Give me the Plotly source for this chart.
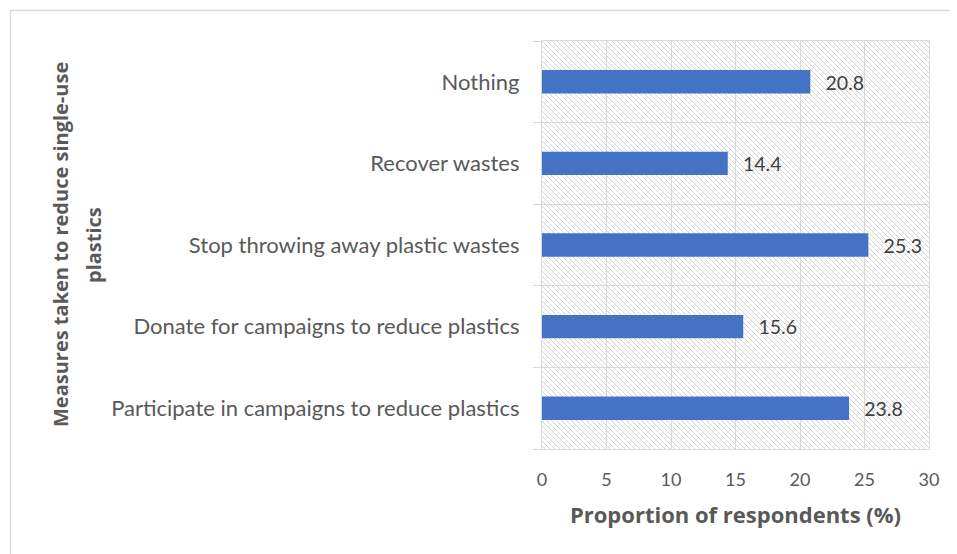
import base64
import plotly.graph_objects as go

categories = [
    "Participate in campaigns to reduce plastics",
    "Donate for campaigns to reduce plastics",
    "Stop throwing away plastic wastes",
    "Recover wastes",
    "Nothing",
]
values = [23.8, 15.6, 25.3, 14.4, 20.8]
x_ticks = [0, 5, 10, 15, 20, 25, 30]
x_title = "Proportion of respondents (%)"
y_title_lines = ["Measures taken to reduce single-use", "plastics"]

# page is shown with an 8px body margin, so the figure is offset by (8, 8)
OFF = 8
W, H = 957 - OFF, 554 - OFF
ML, MR, MT, MB = 542 - OFF, 28, 41 - OFF, 105
PW, PH = W - ML - MR, H - MT - MB

grid = "#d9d9d9"
txt = "#595959"

svg = (
    f'<svg xmlns="http://www.w3.org/2000/svg" width="{PW}" height="{PH}" viewBox="0 0 {PW} {PH}">'
    '<defs><pattern id="h" width="5" height="5" patternUnits="userSpaceOnUse">'
    '<path d="M-1,-1 L6,6 M-1,4 L1,6 M4,-1 L6,1" stroke="#d0d0d0" stroke-width="0.9"/>'
    '</pattern></defs>'
    f'<rect width="{PW}" height="{PH}" fill="url(#h)"/></svg>'
)
src = "data:image/svg+xml;base64," + base64.b64encode(svg.encode()).decode()

fig = go.Figure(
    go.Bar(
        x=values,
        y=categories,
        orientation="h",
        width=0.287,
        marker=dict(color="#4472C4", line=dict(width=0)),
        text=[f"{v:.1f}" for v in values],
        texttemplate="\u2002\u2009%{text}",
        textposition="outside",
        cliponaxis=False,
        textfont=dict(family="Lato", size=20, color="#404040"),
    )
)

fig.update_layout(
    width=W,
    height=H,
    margin=dict(l=ML, r=MR, t=MT, b=MB, pad=0),
    paper_bgcolor="white",
    plot_bgcolor="rgba(0,0,0,0)",
    showlegend=False,
    images=[
        dict(
            source=src,
            xref="paper",
            yref="paper",
            x=0,
            y=1,
            sizex=1,
            sizey=1,
            sizing="stretch",
            xanchor="left",
            yanchor="top",
            layer="below",
        )
    ],
    xaxis=dict(
        range=[0, 30],
        tickvals=x_ticks,
        ticktext=[str(t) for t in x_ticks],
        showgrid=True,
        gridcolor=grid,
        gridwidth=1.3,
        zeroline=False,
        showline=True,
        linecolor=grid,
        linewidth=1.3,
        mirror=True,
        ticks="",
        ticklabelstandoff=14,
        tickfont=dict(family="Lato", size=18, color=txt),
        title=dict(
            text=x_title,
            font=dict(family="Open Sans", size=22, color=txt, weight="bold"),
            standoff=18,
        ),
    ),
    yaxis=dict(
        type="category",
        categoryorder="array",
        categoryarray=categories,
        tickson="boundaries",
        showgrid=True,
        gridcolor=grid,
        gridwidth=1.3,
        showline=True,
        linecolor=grid,
        linewidth=1.3,
        mirror=True,
        ticks="outside",
        ticklen=8,
        tickcolor=grid,
        tickwidth=1.3,
        ticklabelstandoff=17,
        tickfont=dict(family="Lato", size=22, color=txt),
    ),
    shapes=[
        dict(
            type="rect",
            xref="paper",
            yref="paper",
            x0=(10.5 - OFF - ML) / PW,
            x1=2.0,
            y0=-1.0,
            y1=1 + (MT - (10.5 - OFF)) / PH,
            line=dict(color=grid, width=1.3),
            fillcolor="rgba(0,0,0,0)",
            layer="below",
        )
    ],
    annotations=[
        dict(
            text=y_title_lines[0],
            xref="paper",
            yref="paper",
            x=(60 - OFF - ML) / PW,
            y=1 - (245 - OFF - MT) / PH,
            textangle=-90,
            showarrow=False,
            xanchor="center",
            yanchor="middle",
            font=dict(family="Open Sans", size=20, color=txt, weight="bold"),
        ),
        dict(
            text=y_title_lines[1],
            xref="paper",
            yref="paper",
            x=(93 - OFF - ML) / PW,
            y=1 - (245 - OFF - MT) / PH,
            textangle=-90,
            showarrow=False,
            xanchor="center",
            yanchor="middle",
            font=dict(family="Open Sans", size=20, color=txt, weight="bold"),
        ),
    ],
)

fig.write_html("out.html")
